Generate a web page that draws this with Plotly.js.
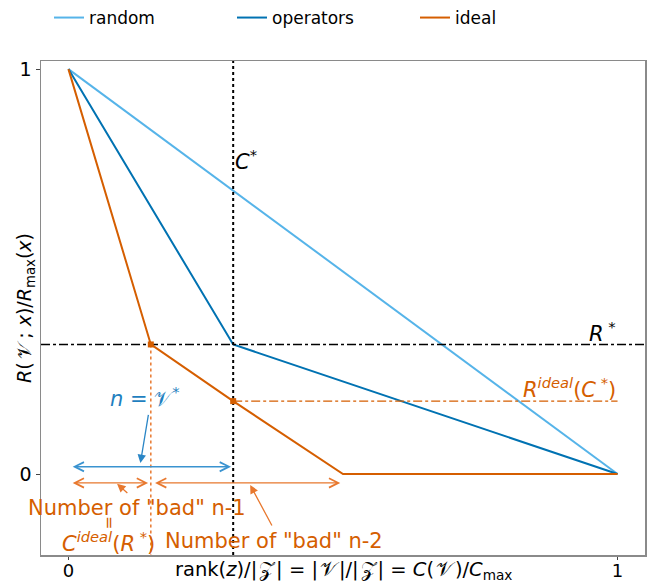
<!DOCTYPE html>
<html>
<head>
<meta charset="utf-8">
<script src="https://cdn.plot.ly/plotly-3.0.1.min.js"></script>
<style>html,body{margin:0;padding:0;background:#fff;}</style>
</head>
<body>
<div id="chart" style="width:662px;height:584px;"></div>
<script>
// ---- data ----
const seriesNames = ["random", "operators", "ideal"];
const randomX = [0, 1];
const randomY = [1, 0];
const operatorsX = [0, 0.3, 1];
const operatorsY = [1, 0.32, 0];
const idealX = [0, 0.15, 0.3, 0.5, 1];
const idealY = [1, 0.32, 0.18, 0, 0];
const cStar = 0.3;          // C*
const rStar = 0.32;         // R*
const cIdealRStar = 0.15;   // C^ideal(R*)
const rIdealCStar = 0.18;   // R^ideal(C*)
const xTickVals = [0, 1];
const xTickText = ["0", "1"];
const yTickVals = [0, 1];
const yTickText = ["0", "1"];

const cRandom = "#56B4E9", cOps = "#0072B2", cIdeal = "#D55E00";
const cBlueTxt = "#1f7fc0", cOrangeLight = "#E8782E";
const FONT = "DejaVu Sans, sans-serif";

const traces = [
  {x: randomX, y: randomY, name: seriesNames[0], mode: "lines", line: {color: cRandom, width: 2}},
  {x: operatorsX, y: operatorsY, name: seriesNames[1], mode: "lines", line: {color: cOps, width: 2}},
  {x: idealX, y: idealY, name: seriesNames[2], mode: "lines", line: {color: cIdeal, width: 2}},
  // R* horizontal dash-dot
  {x: [-0.05, 1.05], y: [rStar, rStar], mode: "lines", showlegend: false,
   line: {color: "black", width: 1.6, dash: "dashdot"}},
  // R^ideal(C*) horizontal dash-dot
  {x: [cStar, 1], y: [rIdealCStar, rIdealCStar], mode: "lines", showlegend: false,
   line: {color: cIdeal, width: 1.1, dash: "dashdot"}},
  // C* vertical dotted
  {x: [cStar, cStar], y: [-0.2, 1.02], mode: "lines", showlegend: false,
   line: {color: "black", width: 2, dash: "dot"}},
  // C^ideal(R*) vertical dotted
  {x: [cIdealRStar, cIdealRStar], y: [rStar, -0.2], mode: "lines", showlegend: false,
   line: {color: cOrangeLight, width: 1.5, dash: "dot"}},
  // markers at ideal points
  {x: [cIdealRStar, cStar], y: [rStar, rIdealCStar], mode: "markers", showlegend: false,
   marker: {color: cIdeal, size: 6, symbol: "square"}}
];

function arrow(x0, y0, x1, y1, color, both, head, size) {
  return {x: x1, y: y1, ax: x0, ay: y0, xref: "x", yref: "y", axref: "x", ayref: "y",
    text: "", showarrow: true, arrowcolor: color, arrowwidth: 1.3,
    arrowhead: head, startarrowhead: head, arrowsize: size, startarrowsize: size,
    arrowside: both ? "end+start" : "end", standoff: 0, startstandoff: 0};
}
function txt(x, y, text, color, size, extra) {
  return Object.assign({x: x, y: y, xref: "x", yref: "y", text: text, showarrow: false,
    font: {family: FONT, size: size, color: color}}, extra || {});
}

const annotations = [
  txt(cStar, 0.775, "<i>C</i><sup>*</sup>", "black", 21, {xanchor: "left"}),
  txt(1.0, rStar, "<i>R</i><sup> *</sup>", "black", 21, {xanchor: "right", yanchor: "bottom", yshift: -4}),
  txt(1.0, rIdealCStar, "<i>R</i><sup><i>ideal</i></sup>(<i>C</i><sup> *</sup>)", cIdeal, 21, {xanchor: "right", yanchor: "bottom", yshift: -3}),
  txt(0.14, 0.19, "<i>n</i> = 𝒱<sup>*</sup>", cBlueTxt, 21),
  txt(0.124, -0.084, 'Number of "bad" n-1', cIdeal, 21),
  txt(0.0727, -0.121, "=", cIdeal, 16, {textangle: -90}),
  txt(0.0727, -0.168, "<i>C</i><sup><i>ideal</i></sup>(<i>R</i><sup> *</sup>)", cIdeal, 21),
  txt(0.3745, -0.165, 'Number of "bad" n-2', cIdeal, 21),
  // double arrows
  arrow(0.005, 0.018, 0.296, 0.018, "#3a93d0", true, 5, 1.4),
  arrow(0.005, -0.022, 0.145, -0.022, cOrangeLight, true, 5, 1.4),
  arrow(0.155, -0.022, 0.495, -0.022, cOrangeLight, true, 5, 1.4),
  // pointer arrows
  arrow(0.146, 0.15, 0.131, 0.027, "#2a86c6", false, 2, 1.3),
  arrow(0.11, -0.05, 0.0885, -0.024, cOrangeLight, false, 2, 1.3),
  arrow(0.372, -0.131, 0.331, -0.027, cOrangeLight, false, 2, 1.3),
  // axis titles
  {xref: "paper", yref: "paper", x: 0.5, y: 0, xanchor: "center", yanchor: "top", yshift: -1, showarrow: false,
   text: "rank(<i>z</i>)/|\u200a𝒵\u200a| = |\u200a𝒱\u200a|/|\u200a𝒵\u200a| = <i>C</i>(\u200a𝒱\u200a)/<i>C</i><sub>max</sub>",
   font: {family: FONT, size: 19.5, color: "black"}},
  {xref: "paper", yref: "paper", x: 0, y: 0.5, xanchor: "center", yanchor: "middle", xshift: -16, showarrow: false, textangle: -90,
   text: "<i>R</i>(\u2009𝒱\u2009; <i>x</i>)/<i>R</i><sub>max</sub>(<i>x</i>)",
   font: {family: FONT, size: 19, color: "black"}}
];

const layout = {
  width: 662, height: 584,
  margin: {l: 41, r: 17, t: 61, b: 29},
  paper_bgcolor: "white", plot_bgcolor: "white",
  font: {family: FONT, size: 19, color: "black"},
  showlegend: true,
  legend: {orientation: "h", xref: "container", yref: "container", x: 0.074, y: 1, yanchor: "top",
    font: {family: FONT, size: 17, color: "black"}, entrywidth: 138, entrywidthmode: "pixels",
    bgcolor: "rgba(0,0,0,0)"},
  hovermode: false,
  xaxis: {range: [-0.05, 1.05], tickvals: xTickVals, ticktext: xTickText, showgrid: false, zeroline: false,
    showline: true, mirror: true, linecolor: "#8a8a8a", linewidth: 1.5,
    ticks: "outside", ticklen: 3, tickcolor: "#444", tickfont: {size: 18}, ticklabelstandoff: -4},
  yaxis: {range: [-0.2, 1.02], tickvals: yTickVals, ticktext: yTickText, showgrid: false, zeroline: false,
    showline: true, mirror: true, linecolor: "#8a8a8a", linewidth: 1.5,
    ticks: "outside", ticklen: 4, tickcolor: "#444", tickfont: {size: 19}},
  annotations: annotations
};

Plotly.newPlot("chart", traces, layout, {displayModeBar: false, staticPlot: true});
</script>
</body>
</html>
